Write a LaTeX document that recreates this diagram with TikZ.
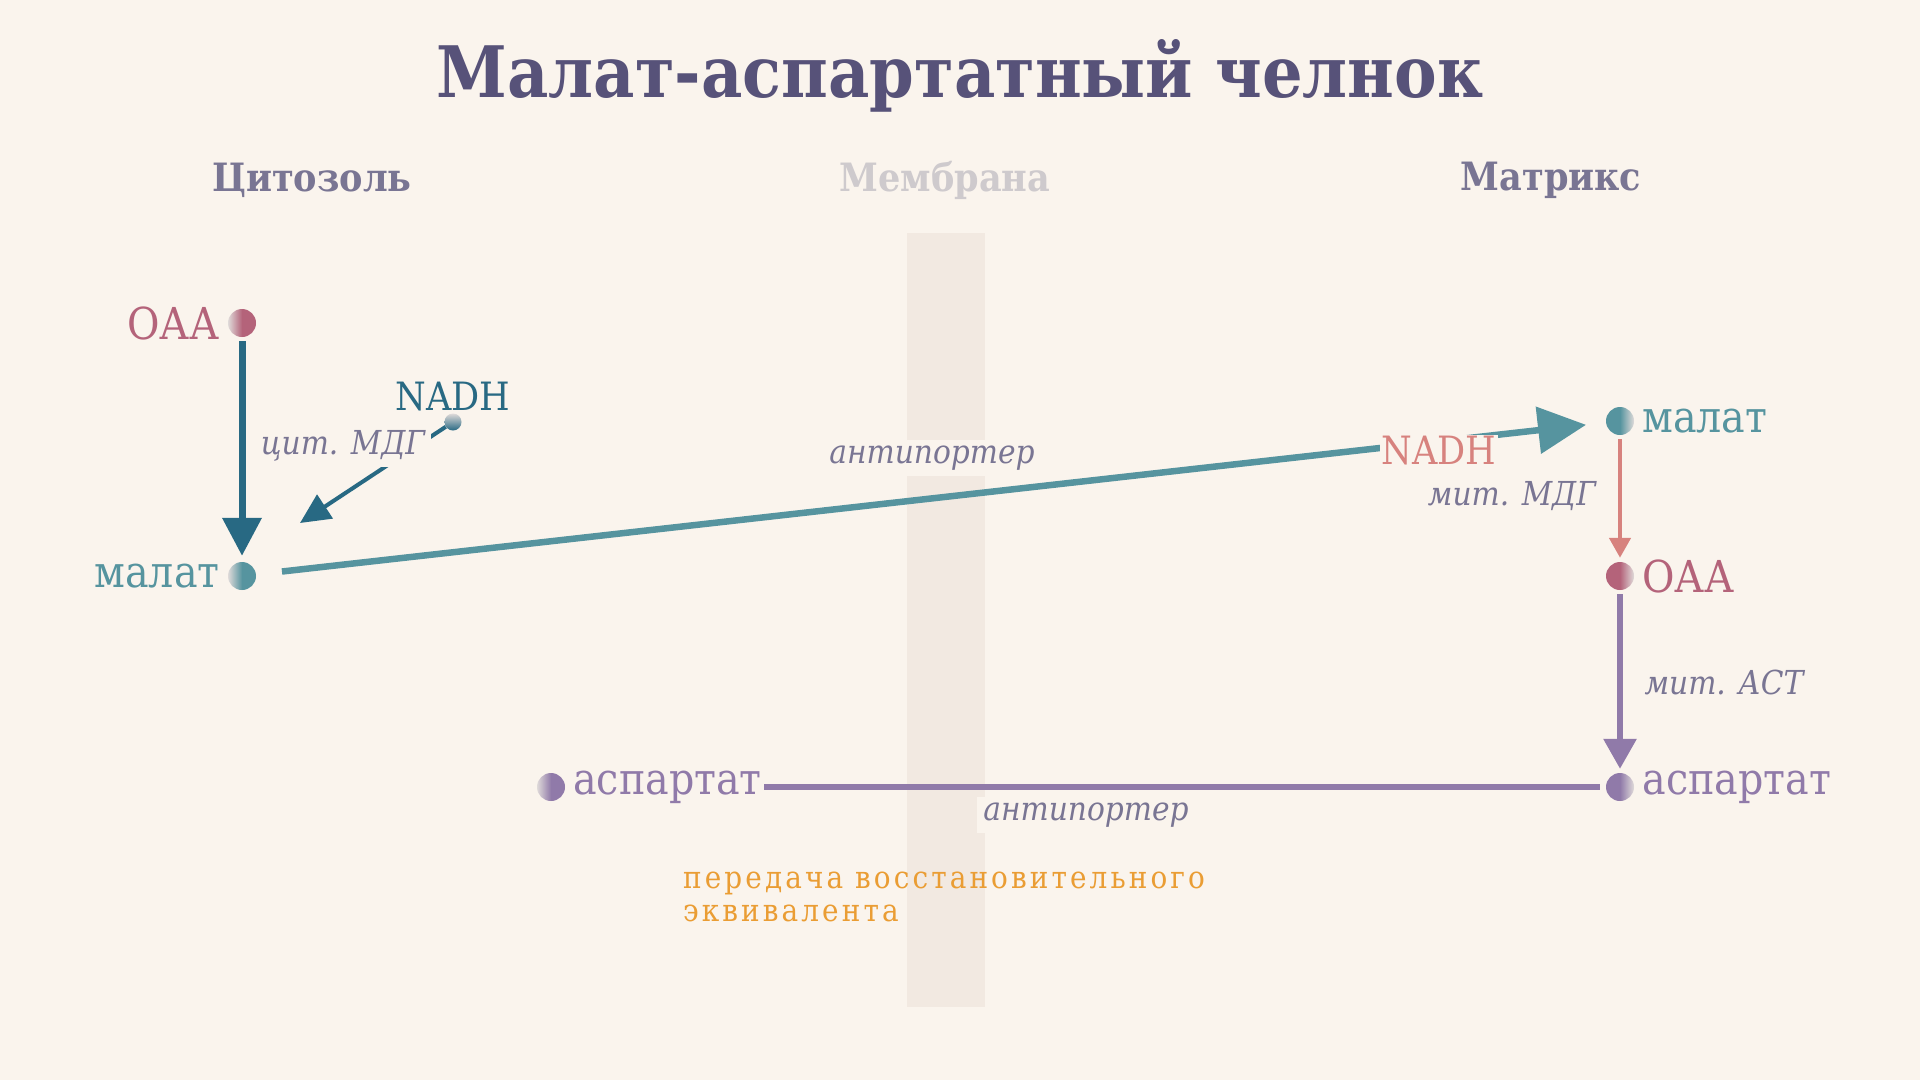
\documentclass[tikz,border=0pt]{standalone}
\usepackage{fontspec}
\setmainfont{DejaVu Serif Condensed}
\usepackage{tikz}
\usetikzlibrary{positioning,arrows.meta}
\definecolor{base}{HTML}{FAF4ED}
\definecolor{membcol}{HTML}{F2E9E1}
\definecolor{txt}{HTML}{575279}
\definecolor{subtle}{HTML}{797593}
\definecolor{hlhigh}{HTML}{CECACD}
\definecolor{hlmed}{HTML}{DFDAD9}
\definecolor{love}{HTML}{B4637A}
\definecolor{gold}{HTML}{EA9D34}
\definecolor{rose}{HTML}{D7827E}
\definecolor{pine}{HTML}{286983}
\definecolor{foam}{HTML}{56949F}
\definecolor{iris}{HTML}{907AA9}

\begin{document}
\begin{tikzpicture}[x=1pt,y=-1pt,
    dotL/.style={circle,inner sep=0pt,minimum size=28pt,left color=hlmed,right color=#1,middle color=#1},
    dotR/.style={circle,inner sep=0pt,minimum size=28pt,left color=#1,right color=hlmed,middle color=#1},
    lbl/.style={inner sep=2pt,font=\fontsize{44}{50}\selectfont},
    enz/.style={fill=base,inner sep=6pt,text=subtle,font=\fontsize{33}{38}\selectfont\itshape},
    head/.style={text=subtle,font=\fontsize{39}{44}\selectfont\bfseries},
  ]
  \useasboundingbox[fill=base] (0,0) rectangle (1920,1080);
  \fill[membcol] (907,233) rectangle (985,1007);

  \node[text=txt,font=\fontsize{71}{80}\selectfont\bfseries] (title) at (960,76) {Малат-аспартатный челнок};
  \node[head] (cyto) at (312,180) {Цитозоль};
  \node[head,text=hlhigh] (memb) at (945,180) {Мембрана};
  \node[head] (matrix) at (1551,180) {Матрикс};

  % cytosol
  \node[dotL=love] (oaaL) at (242,323) {};
  \node[dotL=foam] (malL) at (242,576) {};
  \node[circle,inner sep=0pt,minimum size=17pt,top color=hlmed,bottom color=pine] (nadhd) at (453,422) {};
  \coordinate (nadhEnd) at (300,523);
  \node[lbl,text=love,left=6pt of oaaL] (oaaLt) {ОАА};
  \node[lbl,text=foam,left=6pt of malL] (malLt) {малат};
  \node[lbl,text=pine,font=\fontsize{39}{44}\selectfont,above=0pt of nadhd] (nadhLt) {NADH};

  % matrix
  \node[dotR=foam] (malR) at (1620,421) {};
  \node[dotR=love] (oaaR) at (1620,576) {};
  \node[dotR=iris] (aspR) at (1620,787) {};
  \node[lbl,text=foam,right=6pt of malR] (malRt) {малат};
  \node[lbl,text=love,right=6pt of oaaR] (oaaRt) {ОАА};
  \node[lbl,text=iris,right=6pt of aspR] (aspRt) {аспартат};

  \node[dotL=iris] (aspL) at (551,787) {};
  \node[lbl,text=iris,right=6pt of aspL] (aspLt) {аспартат};

  \draw[pine,line width=7pt,shorten <=4pt,shorten >=6pt,-{Triangle[length=38pt,width=38pt]}] (oaaL) -- (malL);
  \draw[pine,line width=4pt,-{Triangle[length=30pt,width=28pt]}] (nadhd) -- (nadhEnd);
  \node[enz] (cmdh) at (343,446) {цит. МДГ};

  \draw[foam,line width=6.5pt,shorten <=26pt,shorten >=20pt,-{Triangle[length=48pt,width=46pt]}] (malL) -- (malR);
  \node[enz] (anti1) at (932,458) {антипортер};
  \node[lbl,text=rose,fill=base,font=\fontsize{39}{44}\selectfont] (nadhR) at (1439,451) {NADH};

  \draw[rose,line width=4.5pt,shorten <=4pt,shorten >=4pt,-{Triangle[length=20pt,width=21pt]}] (malR) -- (oaaR);
  \node[enz] (mmdh) at (1512,496) {мит. МДГ};
  \draw[iris,line width=6pt,shorten <=4pt,shorten >=4pt,-{Triangle[length=30pt,width=32pt]}] (oaaR) -- (aspR);
  \node[enz] (mast) at (1724,682) {мит. АСТ};

  \draw[iris,line width=6.5pt,shorten <=6pt] (aspR) -- (aspR -| aspLt.east);
  \node[enz] (anti2) at (1086,815) {антипортер};

  \node[text=gold,anchor=north west,align=left,inner sep=0pt,
    font=\fontsize{31}{33}\selectfont\addfontfeatures{LetterSpace=10}] (equiv) at (683,872)
    {передача восстановительного\\эквивалента};
\end{tikzpicture}
\end{document}
